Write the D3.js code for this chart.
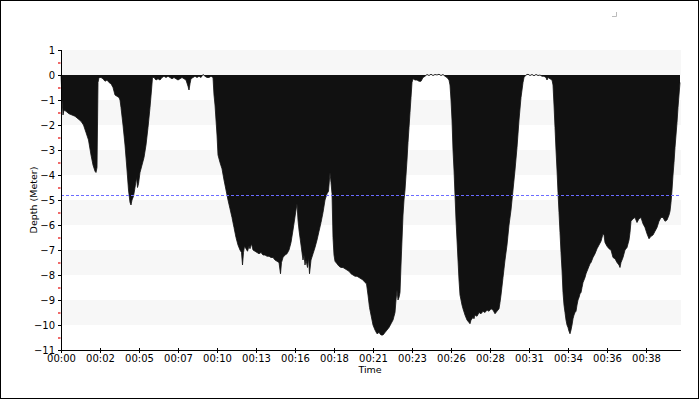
<!DOCTYPE html>
<html><head><meta charset="utf-8">
<script src="https://cdn.jsdelivr.net/npm/d3@7/dist/d3.min.js"></script>
<style>body{margin:0;background:#fff}svg{display:block}text{font-family:"DejaVu Sans",sans-serif;fill:#000}</style>
</head><body><svg id="c" width="700" height="400"></svg>
<script>
// time in seconds since start of dive log
const times = [0,2,4,8,12,20,32,44,56,68,80,90,100,110,120,128,136,140,144,146,148,152,
160,168,176,184,192,200,208,216,224,232,236,
240,248,256,264,270,276,280,284,290,296,302,306,310,316,324,332,340,348,356,362,366,
372,380,388,396,404,412,420,428,436,444,452,460,468,476,484,492,500,508,512,516,520,528,536,544,552,560,568,576,584,592,600,608,
612,616,620,624,628,636,644,652,660,668,676,684,692,700,708,716,722,726,730,734,740,746,752,756,762,768,776,784,792,800,808,816,824,832,840,848,856,864,872,878,882,888,896,904,912,920,928,934,940,944,948,952,960,968,972,976,980,986,990,994,1000,1008,1016,1024,1032,1040,1048,1056,1064,1070,1076,1080,1084,1088,1092,1096,1104,1112,1120,1128,1136,1144,1152,1160,1168,1176,1184,1192,1200,1208,1216,1222,1228,1234,1240,1248,1256,1264,1272,1280,1288,1296,1304,1312,1320,1328,1336,1340,1344,1348,1352,1356,1360,1364,1368,1372,1376,1380,1384,1388,1392,1396,1400,1404,1408,
1416,1424,1432,1440,1448,1456,1464,1472,1480,1488,1496,1504,1512,1520,1528,1536,1544,1552,
1556,1560,1564,1568,1572,1576,1580,1584,1588,1592,1596,1600,1604,1608,1616,1624,1632,1636,1640,1648,1652,1656,1664,1672,1680,1688,1696,1704,1712,1720,1728,1736,1744,1752,1756,1760,1768,1776,1784,1792,1800,1808,1816,1824,1832,1840,1848,1852,
1860,1868,1876,1884,1892,1900,1908,1916,1924,1932,1940,1944,1948,1956,1964,
1968,1972,1976,1980,1984,1988,1992,1996,2000,2004,2008,2012,2016,2020,2024,2028,2032,2036,2040,2044,2048,2052,2056,2060,2064,2068,2072,2076,2080,2084,2088,2092,2096,2100,2104,2108,2112,2116,2120,2124,2128,2136,2144,2152,2160,2168,2172,2176,2184,2192,2200,2208,2216,2224,2232,2236,2240,2248,2256,2264,2272,2276,2280,2288,2296,2304,2312,2320,2328,2336,2344,2352,2360,2368,2376,2384,2392,2400,2408,2416,2424,2432,2436,2440,2444,2448,2452,2456,2460,2464,2468,2472,2476];
// depth in meters
const depths = [0,-0.45,-1.0,-1.6,-1.4,-1.45,-1.55,-1.6,-1.65,-1.75,-1.85,-2.0,-2.3,-2.6,-3.2,-3.6,-3.85,-3.9,-3.7,-2.0,-0.3,-0.1,
-0.1,-0.15,-0.25,-0.2,-0.3,-0.35,-0.5,-0.8,-0.85,-0.9,-1.0,
-1.3,-2.0,-2.8,-3.8,-4.6,-5.1,-5.2,-5.0,-4.85,-4.5,-4.1,-4.5,-4.35,-3.9,-3.6,-3.3,-2.8,-2.1,-1.3,-0.6,-0.1,
-0.1,-0.2,-0.15,-0.2,-0.1,-0.05,-0.1,-0.05,-0.1,-0.15,-0.1,-0.15,-0.2,-0.15,-0.1,-0.15,-0.2,-0.45,-0.6,-0.35,-0.15,-0.1,-0.05,-0.1,-0.05,-0.1,0.02,-0.05,-0.1,-0.1,-0.05,-0.1,
-0.8,-1.2,-1.8,-2.4,-3.2,-3.5,-3.75,-4.2,-4.6,-5.0,-5.35,-5.7,-6.1,-6.5,-6.8,-7.0,-7.1,-7.6,-7.1,-6.85,-6.95,-7.05,-6.85,-6.95,-6.75,-7.0,-7.05,-7.1,-7.15,-7.1,-7.2,-7.2,-7.25,-7.25,-7.3,-7.3,-7.4,-7.45,-7.5,-7.95,-7.5,-7.3,-7.2,-7.15,-7.0,-6.7,-6.2,-5.8,-5.4,-5.15,-5.8,-6.2,-6.8,-7.4,-7.2,-7.6,-7.4,-7.7,-7.3,-7.95,-7.4,-7.15,-6.9,-6.6,-6.25,-5.9,-5.5,-5.0,-4.75,-4.65,-3.9,-4.3,-4.75,-6.5,-7.2,-7.45,-7.55,-7.65,-7.7,-7.7,-7.75,-7.8,-7.85,-7.95,-8.0,-8.05,-8.05,-8.1,-8.15,-8.2,-8.3,-8.35,-8.8,-9.3,-9.6,-10.0,-10.2,-10.35,-10.3,-10.4,-10.4,-10.3,-10.2,-10.1,-9.95,-9.8,-9.5,-9.0,-8.6,-9.0,-8.9,-8.7,-7.6,-6.6,-5.6,-5.0,-4.6,-4.0,-3.4,-2.7,-2.1,-1.5,-0.9,-0.3,-0.15,
-0.2,-0.2,-0.25,-0.25,-0.1,-0.05,0.02,-0.02,0.03,-0.02,0.02,0.0,0.03,-0.02,0.02,-0.05,-0.1,-0.2,
-0.4,-1.0,-1.8,-3.0,-3.8,-4.8,-5.8,-6.6,-7.4,-8.2,-8.8,-9.0,-9.2,-9.35,-9.6,-9.8,-9.9,-9.95,-9.8,-9.7,-9.75,-9.6,-9.65,-9.5,-9.55,-9.45,-9.5,-9.4,-9.45,-9.35,-9.4,-9.55,-9.45,-9.35,-9.1,-8.8,-8.1,-7.4,-6.8,-6.0,-5.4,-4.6,-3.8,-2.9,-1.8,-0.9,-0.3,-0.1,
0.0,0.03,-0.02,0.02,-0.03,0.02,-0.02,0.0,-0.05,-0.05,-0.1,-0.2,-0.1,-0.15,-0.2,
-0.4,-1.2,-2.1,-3.0,-3.8,-4.7,-5.5,-6.3,-7.1,-7.8,-8.7,-9.2,-9.5,-9.8,-10.0,-10.1,-10.25,-10.35,-10.2,-10.0,-9.75,-9.6,-9.5,-9.45,-9.2,-9.0,-8.9,-8.75,-8.7,-8.5,-8.3,-8.2,-8.1,-7.95,-7.85,-7.75,-7.65,-7.55,-7.5,-7.4,-7.3,-7.15,-6.95,-6.8,-6.65,-6.35,-6.4,-6.7,-6.85,-6.95,-7.0,-7.3,-7.35,-7.5,-7.6,-7.7,-7.5,-7.3,-7.0,-6.9,-6.6,-6.3,-5.85,-5.75,-5.7,-5.9,-5.75,-5.7,-5.95,-6.1,-6.35,-6.55,-6.45,-6.4,-6.25,-6.1,-5.85,-5.7,-5.7,-5.85,-5.8,-5.6,-5.45,-5.1,-4.6,-4.0,-3.5,-2.9,-2.4,-1.9,-1.3,-0.8,-0.3];
const xTickSeconds = [0,156,312,468,624,780,936,1092,1248,1404,1560,1716,1872,2028,2184,2340];
const xTickLabels = ["00:00","00:02","00:05","00:07","00:10","00:13","00:16","00:18","00:21","00:23","00:26","00:28","00:31","00:34","00:36","00:38"];
const yTicks = [1,0,-1,-2,-3,-4,-5,-6,-7,-8,-9,-10,-11];
const yMinorTicks = [0.5,-0.5,-1.5,-2.5,-3.5,-4.5,-5.5,-6.5,-7.5,-8.5,-9.5,-10.5];
const bandRanges = [[1,0],[-1,-2],[-3,-4],[-5,-6],[-7,-8],[-9,-10]];
const refDepth = -4.8;
const xTitle = "Time", yTitle = "Depth (Meter)";

const svg = d3.select("#c");
const L = 61, R = 681, T = 50, B = 350;
const x = d3.scaleLinear().domain([0, 2480]).range([L, R]);
const y = d3.scaleLinear().domain([-11, 1]).range([B, T]);

svg.append("rect").attr("x",0.5).attr("y",0.5).attr("width",698).attr("height",398)
  .attr("fill","#fff").attr("stroke","#000");

// bands
svg.append("g").selectAll("rect").data(bandRanges).join("rect")
  .attr("x", L).attr("width", R - L)
  .attr("y", d => y(d[0])).attr("height", d => y(d[1]) - y(d[0]))
  .attr("fill", "#f7f7f7");

// area
const data = times.map((t,i)=>({t, d: depths[i]}));
const area = d3.area().x(d=>x(d.t)).y0(y(0)).y1(d=>y(d.d));
svg.append("path").datum(data).attr("d", area).attr("fill","#111");
svg.append("path").datum(data).attr("d", d3.line().x(d=>x(d.t)).y(d=>y(d.d)))
  .attr("fill","none").attr("stroke","#111").attr("stroke-width",0.8);

// reference dashed line
svg.append("line").attr("x1",L).attr("x2",R).attr("y1",y(refDepth)+0.5).attr("y2",y(refDepth)+0.5)
  .attr("stroke","#6b6bff").attr("stroke-width",1).attr("stroke-dasharray","3,2");

// y axis
const yAxis = d3.axisLeft(y).tickValues(yTicks).tickSize(4).tickPadding(3).tickFormat(d3.format("d"));
const gy = svg.append("g").attr("transform",`translate(${L},0)`).call(yAxis);
gy.select(".domain").attr("stroke","#000").attr("d",`M0.5,${T}V${B}`);
gy.selectAll(".tick line").attr("stroke","#000").attr("x1",0.5).attr("x2",-3);
gy.selectAll(".tick text").attr("font-size",10).attr("font-family","DejaVu Sans").attr("fill","#000").attr("x",-6).attr("dy","0.3em");
svg.append("g").selectAll("rect").data(yMinorTicks).join("rect")
  .attr("x", L-3).attr("width", 2.5).attr("y", d => y(d)-0.5).attr("height", 2)
  .attr("fill", "#f06a6a");

// x axis
const xAxis = d3.axisBottom(x).tickValues(xTickSeconds).tickSize(3).tickPadding(2)
  .tickFormat((d,i)=>xTickLabels[i]);
const gx = svg.append("g").attr("transform",`translate(0,${B})`).call(xAxis);
gx.select(".domain").attr("stroke","#000").attr("d",`M${L},0.5H${R}`);
gx.selectAll(".tick line").attr("stroke","#000").attr("y1",-2).attr("y2",3);
gx.selectAll(".tick text").attr("font-size",10).attr("font-family","DejaVu Sans").attr("fill","#000");

// titles
svg.append("text").attr("x",(L+R)/2-1).attr("y",373).attr("text-anchor","middle")
  .attr("font-size",9.5).text(xTitle);
svg.append("text").attr("transform",`translate(37,${(T+B)/2}) rotate(-90)`).attr("text-anchor","middle")
  .attr("font-size",9.5).text(yTitle);

// small legend corner mark
svg.append("path").attr("d","M612,16.5H616.5V12").attr("fill","none").attr("stroke","#bbb");
</script></body></html>
